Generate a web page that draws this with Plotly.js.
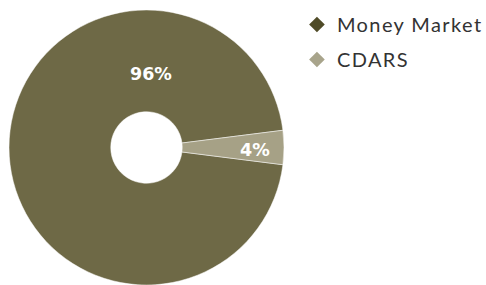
<!DOCTYPE html>
<html>
<head>
<meta charset="utf-8">
<script src="https://cdn.plot.ly/plotly-3.0.1.min.js"></script>
<style>
html,body{margin:0;padding:0;background:#fff;}
#chart{width:486px;height:285px;}
#chart .legendtext{letter-spacing:1.4px;}
#chart .legend .scrollbox{clip-path:none !important;}
</style>
</head>
<body>
<div id="chart"></div>
<script>
const categories = ["Money Market", "CDARS"];
const shares = [96, 4];
const sliceColors = ["#6e6946", "#a6a186"];
const legendColors = ["#4f4b27", "#a8a48b"];

const total = shares.reduce((a, b) => a + b, 0);
// rotate so the small slice is centred at 3 o'clock
const rotation = 90 + (shares[1] / total) * 180;

const pie = {
  type: "pie",
  labels: categories,
  values: shares,
  sort: false,
  direction: "clockwise",
  rotation: rotation,
  hole: 0.26,
  marker: {colors: sliceColors, line: {color: "#ffffff", width: 0.5}},
  textinfo: "none",
  showlegend: false,
  hoverinfo: "label+percent",
  domain: {x: [8/486, 285/486], y: [0, 1]}
};

const legendTraces = categories.map((c, i) => ({
  type: "scatter",
  mode: "markers",
  x: [null], y: [null],
  name: c,
  legendgroup: "g" + i,
  marker: {symbol: "diamond", size: 12, color: legendColors[i]},
  hoverinfo: "skip"
}));

const labelFont = {family: "'DejaVu Sans', sans-serif", size: 17.5, color: "#ffffff", weight: "bold"};
const pct = v => Math.round(v / total * 100) + "%";
const annotations = [
  {xref: "paper", yref: "paper", x: 151/486, y: 1 - 64/275, xanchor: "center", yanchor: "middle", text: pct(shares[0]), showarrow: false, font: labelFont},
  {xref: "paper", yref: "paper", x: 254.5/486, y: 1 - 139.5/275, xanchor: "center", yanchor: "middle", text: pct(shares[1]), showarrow: false, font: labelFont}
];

const layout = {
  width: 486, height: 285,
  margin: {l: 0, r: 0, t: 10, b: 0},
  paper_bgcolor: "#ffffff",
  plot_bgcolor: "#ffffff",
  xaxis: {visible: false, domain: [0.9, 1]},
  yaxis: {visible: false, domain: [0.9, 1]},
  showlegend: true,
  legend: {
    x: 0.611, y: 1.018, xanchor: "left", yanchor: "top",
    font: {family: "Lato, sans-serif", size: 20, color: "#333333"},
    tracegroupgap: 6,
    itemwidth: 30,
    bgcolor: "rgba(0,0,0,0)"
  },
  annotations: annotations
};

Plotly.newPlot("chart", [pie, ...legendTraces], layout, {displayModeBar: false, staticPlot: true});
</script>
</body>
</html>
